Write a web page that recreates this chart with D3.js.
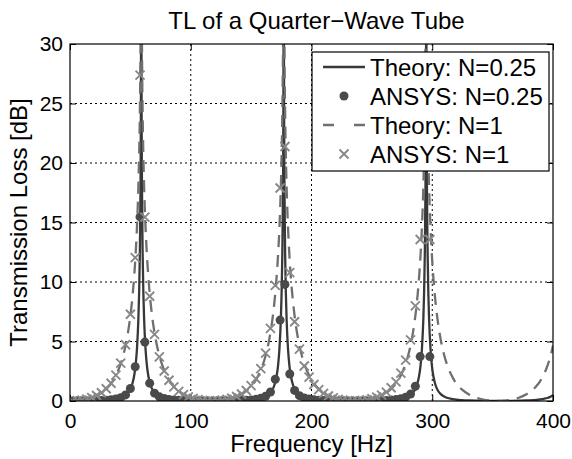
<!DOCTYPE html>
<html>
<head>
<meta charset="utf-8">
<script src="https://cdn.jsdelivr.net/npm/d3@7/dist/d3.min.js"></script>
<style>
  html, body { margin: 0; padding: 0; background: #fff; }
  svg { display: block; }
  text { font-family: "Liberation Sans", Arial, Helvetica, sans-serif; fill: #000; }
</style>
</head>
<body>
<svg id="chart" width="572" height="459"></svg>
<script>
// ---------------- DATA ----------------
const chartTitle = "TL of a Quarter\u2212Wave Tube";
const xLabel = "Frequency [Hz]";
const yLabel = "Transmission Loss [dB]";
const xTicks = [0, 100, 200, 300, 400];
const yTicks = [0, 5, 10, 15, 20, 25, 30];
const seriesNames = ["Theory: N=0.25", "ANSYS: N=0.25", "Theory: N=1", "ANSYS: N=1"];

// Theory curves (frequency in Hz, TL in dB)
const theoryFreq = [
  0, 5.9, 11.8, 17.7, 23.6, 29.5, 32.45, 35.4, 38.35, 41.3, 44.25, 47.2, 50.15, 51.63, 53.1, 54.28, 55.46, 56.64, 57.23, 57.82, 58.41, 58.71, 58.88,
  59.12, 59.30, 59.59, 60.18, 60.77, 61.36, 62.54, 63.72, 64.9, 66.38, 67.85, 70.8, 73.75, 76.7, 79.65, 82.6, 85.55, 88.5, 94.4, 100.3, 106.2, 112.1, 118,
  123.9, 129.8, 135.7, 141.6, 147.5, 150.45, 153.4, 156.35, 159.3, 162.25, 165.2, 168.15, 169.63, 171.1, 172.28, 173.46, 174.64, 175.23, 175.82, 176.41, 176.71, 176.88,
  177.12, 177.30, 177.59, 178.18, 178.77, 179.36, 180.54, 181.72, 182.9, 184.38, 185.85, 188.8, 191.75, 194.7, 197.65, 200.6, 203.55, 206.5, 212.4, 218.3, 224.2, 230.1, 236,
  241.9, 247.8, 253.7, 259.6, 265.5, 268.45, 271.4, 274.35, 277.3, 280.25, 283.2, 286.15, 287.63, 289.1, 290.28, 291.46, 292.64, 293.23, 293.82, 294.41, 294.71, 294.88,
  295.12, 295.30, 295.59, 296.18, 296.77, 297.36, 298.54, 299.72, 300.9, 302.38, 303.85, 306.8, 309.75, 312.7, 315.65, 318.6, 321.55, 324.5, 330.4, 336.3, 342.2, 348.1, 354,
  359.9, 365.8, 371.7, 377.6, 383.5, 386.45, 389.4, 392.35, 395.3, 398.25, 400
];
const theoryN025 = [
  0, 0.00, 0.01, 0.02, 0.04, 0.07, 0.09, 0.13, 0.18, 0.25, 0.38, 0.60, 1.04, 1.45, 2.10, 2.96, 4.39, 6.94, 9.04, 12.26, 18.08, 24.05, 32.00,
  32.00, 24.05, 18.08, 12.26, 9.04, 6.94, 4.39, 2.96, 2.10, 1.45, 1.04, 0.60, 0.38, 0.25, 0.18, 0.13, 0.09, 0.07, 0.04, 0.02, 0.01, 0.00, 0,
  0.00, 0.01, 0.02, 0.04, 0.07, 0.09, 0.13, 0.18, 0.25, 0.38, 0.60, 1.04, 1.45, 2.10, 2.96, 4.39, 6.94, 9.04, 12.26, 18.08, 24.05, 32.00,
  32.00, 24.05, 18.08, 12.26, 9.04, 6.94, 4.39, 2.96, 2.10, 1.45, 1.04, 0.60, 0.38, 0.25, 0.18, 0.13, 0.09, 0.07, 0.04, 0.02, 0.01, 0.00, 0,
  0.00, 0.01, 0.02, 0.04, 0.07, 0.09, 0.13, 0.18, 0.25, 0.38, 0.60, 1.04, 1.45, 2.10, 2.96, 4.39, 6.94, 9.04, 12.26, 18.08, 24.05, 32.00,
  32.00, 24.05, 18.08, 12.26, 9.04, 6.94, 4.39, 2.96, 2.10, 1.45, 1.04, 0.60, 0.38, 0.25, 0.18, 0.13, 0.09, 0.07, 0.04, 0.02, 0.01, 0.00, 0,
  0.00, 0.01, 0.02, 0.04, 0.07, 0.09, 0.13, 0.18, 0.25, 0.38, 0.49
];
const theoryN1 = [
  0, 0.03, 0.11, 0.27, 0.54, 0.97, 1.28, 1.68, 2.22, 2.93, 3.90, 5.27, 7.27, 8.64, 10.40, 12.22, 14.62, 18.07, 20.55, 24.05, 30.06, 36.08, 44.04,
  44.04, 36.08, 30.06, 24.05, 20.55, 18.07, 14.62, 12.22, 10.40, 8.64, 7.27, 5.27, 3.90, 2.93, 2.22, 1.68, 1.28, 0.97, 0.54, 0.27, 0.11, 0.03, 0,
  0.03, 0.11, 0.27, 0.54, 0.97, 1.28, 1.68, 2.22, 2.93, 3.90, 5.27, 7.27, 8.64, 10.40, 12.22, 14.62, 18.07, 20.55, 24.05, 30.06, 36.08, 44.04,
  44.04, 36.08, 30.06, 24.05, 20.55, 18.07, 14.62, 12.22, 10.40, 8.64, 7.27, 5.27, 3.90, 2.93, 2.22, 1.68, 1.28, 0.97, 0.54, 0.27, 0.11, 0.03, 0,
  0.03, 0.11, 0.27, 0.54, 0.97, 1.28, 1.68, 2.22, 2.93, 3.90, 5.27, 7.27, 8.64, 10.40, 12.22, 14.62, 18.07, 20.55, 24.05, 30.06, 36.08, 44.04,
  44.04, 36.08, 30.06, 24.05, 20.55, 18.07, 14.62, 12.22, 10.40, 8.64, 7.27, 5.27, 3.90, 2.93, 2.22, 1.68, 1.28, 0.97, 0.54, 0.27, 0.11, 0.03, 0,
  0.03, 0.11, 0.27, 0.54, 0.97, 1.28, 1.68, 2.22, 2.93, 3.90, 4.66
];

// ANSYS results (frequency in Hz, TL in dB)
const ansysFreq = [
  2, 6, 10, 14, 18, 22, 26, 30, 34, 38, 42, 46, 50, 54, 58, 62, 66, 70, 74, 78,
  82, 86, 90, 94, 98, 102, 106, 110, 114, 118, 122, 126, 130, 134, 138, 142, 146, 150, 154, 158,
  162, 166, 170, 174, 178, 182, 186, 190, 194, 198, 202, 206, 210, 214, 218, 222, 226, 230, 234, 238,
  242, 246, 250, 254, 258, 262, 266, 270, 274, 278, 282, 286, 290, 294, 298
];
const ansysN025 = [
  0.00, 0.00, 0.01, 0.01, 0.02, 0.03, 0.05, 0.07, 0.11, 0.17, 0.28, 0.51, 1.05, 2.88, 15.47, 4.95, 1.50, 0.66, 0.35, 0.21,
  0.13, 0.09, 0.06, 0.04, 0.02, 0.01, 0.01, 0.00, 0.00, 0.00, 0.00, 0.00, 0.01, 0.01, 0.02, 0.04, 0.06, 0.09, 0.14, 0.23,
  0.40, 0.76, 1.83, 6.80, 9.80, 2.27, 0.89, 0.45, 0.26, 0.16, 0.10, 0.07, 0.04, 0.03, 0.02, 0.01, 0.00, 0.00, 0.00, 0.00,
  0.00, 0.01, 0.01, 0.02, 0.03, 0.05, 0.08, 0.12, 0.19, 0.32, 0.58, 1.24, 3.73, 23.9, 3.73
];
const ansysN1 = [
  0.00, 0.03, 0.08, 0.16, 0.29, 0.46, 0.69, 1.03, 1.49, 2.17, 3.18, 4.73, 7.29, 12.05, 27.39, 15.45, 8.80, 5.60, 3.71, 2.52,
  1.74, 1.19, 0.81, 0.54, 0.35, 0.21, 0.11, 0.05, 0.01, 0.00, 0.02, 0.06, 0.13, 0.23, 0.38, 0.59, 0.88, 1.29, 1.87, 2.72,
  4.02, 6.10, 9.72, 17.90, 21.39, 10.79, 6.66, 4.36, 2.94, 2.01, 1.39, 0.95, 0.64, 0.42, 0.26, 0.14, 0.07, 0.02, 0.00, 0.01,
  0.04, 0.09, 0.19, 0.32, 0.50, 0.75, 1.11, 1.61, 2.34, 3.43, 5.14, 8.00, 13.57, 35.9, 13.57
];

// ---------------- CHART ----------------
const W = 572, H = 459;
const margin = { left: 70, right: W - 553, top: 44, bottom: H - 401 };
const svg = d3.select("#chart");
const x = d3.scaleLinear().domain([0, 400]).range([margin.left, W - margin.right]);
const y = d3.scaleLinear().domain([0, 30]).range([H - margin.bottom, margin.top]);
const FS_TICK = 21, FS_LABEL = 24, FS_LEG = 24;

const colSolid = "#383838", colDot = "#4a4a4a", colDash = "#6f6f6f", colCross = "#888888";

svg.append("rect").attr("width", W).attr("height", H).attr("fill", "#fff");

svg.append("defs").append("clipPath").attr("id", "clip")
  .append("rect").attr("x", x(0)).attr("y", y(30)).attr("width", x(400) - x(0)).attr("height", y(0) - y(30));

// grid
const grid = svg.append("g");
xTicks.slice(1, -1).forEach(t => {
  grid.append("line").attr("x1", x(t)).attr("x2", x(t)).attr("y1", y(0)).attr("y2", y(30))
    .attr("stroke", "#000").attr("stroke-width", 1).attr("stroke-dasharray", "2,3");
});
yTicks.slice(1, -1).forEach(t => {
  grid.append("line").attr("x1", x(0)).attr("x2", x(400)).attr("y1", y(t)).attr("y2", y(t))
    .attr("stroke", "#000").attr("stroke-width", 1).attr("stroke-dasharray", "2,3");
});

// axes (ticks inside, on all four sides)
const axB = d3.axisBottom(x).tickValues(xTicks).tickSize(-6).tickPadding(12).tickFormat(d3.format("d"));
const axT = d3.axisTop(x).tickValues(xTicks).tickSize(-6).tickFormat("");
const axL = d3.axisLeft(y).tickValues(yTicks).tickSize(-6).tickPadding(7).tickFormat(d3.format("d"));
const axR = d3.axisRight(y).tickValues(yTicks).tickSize(-6).tickFormat("");
function styleAxis(g) {
  g.select(".domain").remove();
  g.selectAll(".tick line").attr("stroke", "#000").attr("stroke-width", 1);
  g.selectAll("text").attr("font-size", FS_TICK).attr("fill", "#000")
    .style("font-family", '"Liberation Sans", Arial, Helvetica, sans-serif');
}
svg.append("g").attr("transform", `translate(0,${y(0)})`).call(axB).call(styleAxis)
  .selectAll("text").attr("dy", "0.72em");
svg.append("g").attr("transform", `translate(0,${y(30)})`).call(axT).call(styleAxis);
svg.append("g").attr("transform", `translate(${x(0)},0)`).call(axL).call(styleAxis);
svg.append("g").attr("transform", `translate(${x(400)},0)`).call(axR).call(styleAxis);

// data layers
const plot = svg.append("g").attr("clip-path", "url(#clip)");
const theory025 = theoryFreq.map((f, i) => [f, theoryN025[i]]);
const theory1 = theoryFreq.map((f, i) => [f, theoryN1[i]]);
const line = d3.line().x(d => x(d[0])).y(d => y(d[1])).curve(d3.curveMonotoneX);

plot.append("path").datum(theory025).attr("d", line)
  .attr("fill", "none").attr("stroke", colSolid).attr("stroke-width", 2.3);

plot.selectAll("circle.an025").data(ansysFreq.map((f, i) => [f, ansysN025[i]])).enter()
  .append("circle").attr("class", "an025")
  .attr("cx", d => x(d[0])).attr("cy", d => y(d[1])).attr("r", 4.5).attr("fill", colDot);

plot.append("path").datum(theory1).attr("d", line)
  .attr("fill", "none").attr("stroke", colDash).attr("stroke-width", 2.3).attr("stroke-dasharray", "12,8");

const cs = 4.5;
plot.selectAll("path.an1").data(ansysFreq.map((f, i) => [f, ansysN1[i]])).enter()
  .append("path").attr("class", "an1")
  .attr("d", d => { const cx = x(d[0]), cy = y(d[1]);
    return `M${cx - cs},${cy - cs}L${cx + cs},${cy + cs}M${cx - cs},${cy + cs}L${cx + cs},${cy - cs}`; })
  .attr("stroke", colCross).attr("stroke-width", 1.9).attr("fill", "none");

// frame
svg.append("rect").attr("x", x(0)).attr("y", y(30)).attr("width", x(400) - x(0)).attr("height", y(0) - y(30))
  .attr("fill", "none").attr("stroke", "#000").attr("stroke-width", 1.2);

// title & labels
svg.append("text").attr("x", (x(0) + x(400)) / 2 + 5).attr("y", 29).attr("text-anchor", "middle")
  .attr("font-size", FS_LABEL).text(chartTitle);
svg.append("text").attr("x", (x(0) + x(400)) / 2).attr("y", 452).attr("text-anchor", "middle")
  .attr("font-size", FS_LABEL).text(xLabel);
svg.append("text").attr("transform", `translate(27,${(y(0) + y(30)) / 2}) rotate(-90)`)
  .attr("text-anchor", "middle").attr("font-size", FS_LABEL).text(yLabel);

// legend
const lg = svg.append("g");
const lx = 312, ly = 52, lw = 237, lh = 119;
lg.append("rect").attr("x", lx).attr("y", ly).attr("width", lw).attr("height", lh)
  .attr("fill", "#fff").attr("stroke", "#000").attr("stroke-width", 1.2);
const rowY = [67, 96, 125, 154];
const sx1 = 323, sx2 = 365, tx = 370;
lg.append("line").attr("x1", sx1).attr("x2", sx2).attr("y1", rowY[0]).attr("y2", rowY[0])
  .attr("stroke", colSolid).attr("stroke-width", 2.3);
lg.append("circle").attr("cx", (sx1 + sx2) / 2).attr("cy", rowY[1]).attr("r", 4.5).attr("fill", colDot);
lg.append("line").attr("x1", sx1).attr("x2", sx2).attr("y1", rowY[2]).attr("y2", rowY[2])
  .attr("stroke", colDash).attr("stroke-width", 2.3).attr("stroke-dasharray", "11,20");
const lcx = (sx1 + sx2) / 2;
lg.append("path").attr("d", `M${lcx - cs},${rowY[3] - cs}L${lcx + cs},${rowY[3] + cs}M${lcx - cs},${rowY[3] + cs}L${lcx + cs},${rowY[3] - cs}`)
  .attr("stroke", colCross).attr("stroke-width", 1.9);
seriesNames.forEach((n, i) => {
  lg.append("text").attr("x", tx).attr("y", rowY[i]).attr("dy", "0.36em").attr("font-size", FS_LEG).text(n);
});
</script>
</body>
</html>
